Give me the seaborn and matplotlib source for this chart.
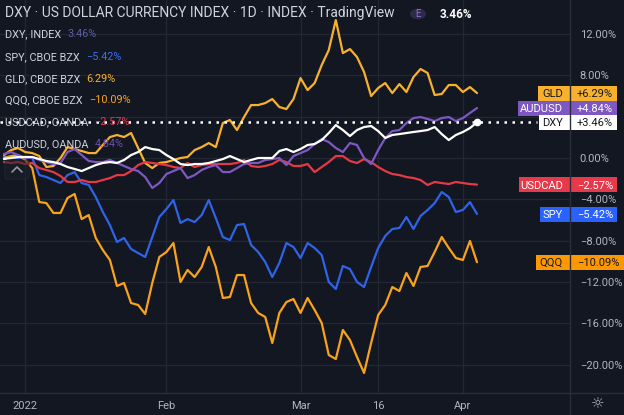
import numpy as np
import pandas as pd
import matplotlib
matplotlib.use("Agg")
import matplotlib.pyplot as plt
import matplotlib.transforms as mtransforms
from matplotlib.patches import Rectangle, FancyBboxPatch, Circle
from matplotlib.lines import Line2D
import seaborn as sns

# Percent change since the first bar (Dec 29 2021 .. Apr 5 2022)
dates = pd.bdate_range("2021-12-29", "2022-04-05")
dates = dates[~dates.isin(pd.to_datetime(["2022-01-17", "2022-02-21"]))]

spy = [0.10, 0.10, 0.00, 0.10, 0.00, -1.65, -1.84, -2.13, -2.42, -1.65,
       -1.36, -2.42, -2.61, -3.78, -5.23, -6.49, -8.13, -7.74, -8.81, -9.20,
       -9.58, -7.65, -5.71, -4.94, -4.07, -6.29, -5.91, -6.20, -5.52, -4.07,
       -5.81, -7.65, -7.94, -6.49, -6.39, -8.42, -9.10, -10.07, -11.52, -10.16,
       -8.23, -8.62, -9.68, -8.23, -8.71, -9.39, -12.00, -12.68, -10.45, -10.75,
       -12.00, -12.49, -10.55, -8.71, -7.55, -6.87, -6.78, -5.71, -6.87, -5.61,
       -5.03, -4.36, -3.29, -3.78, -5.23, -5.03, -4.26, -5.42]
qqq = [0.00, 0.19, 0.29, -0.19, -0.97, -4.26, -4.36, -5.32, -5.32, -3.87,
       -3.48, -5.91, -5.52, -7.74, -8.91, -9.87, -12.39, -12.10, -14.04, -14.23,
       -15.10, -12.10, -9.58, -9.10, -8.23, -12.00, -10.84, -11.52, -10.55, -8.62,
       -10.55, -13.55, -13.46, -11.33, -11.33, -14.04, -15.00, -15.39, -17.91, -15.00,
       -13.94, -13.65, -15.00, -13.55, -14.71, -15.97, -19.07, -19.46, -16.65, -17.62,
       -19.26, -20.81, -17.91, -15.20, -14.23, -12.49, -12.88, -11.13, -12.39, -10.55,
       -10.45, -9.10, -7.65, -8.71, -9.68, -9.87, -8.03, -10.09]
gld = [0.29, 0.77, 0.97, 0.58, 0.48, 0.19, -0.87, -0.77, 0.00, 1.06,
       0.87, 0.68, 0.48, 0.48, 1.26, 2.03, 2.23, 2.03, 2.42, 0.97,
       -0.48, -0.97, -0.48, -0.39, -0.19, 0.00, 0.10, 0.77, 1.06, 1.45,
       1.06, 3.39, 3.68, 2.71, 3.97, 5.13, 5.13, 5.32, 5.71, 4.94,
       4.74, 5.71, 7.74, 6.58, 7.26, 9.00, 10.45, 13.36, 10.16, 10.55,
       9.78, 8.33, 6.00, 6.78, 7.26, 6.29, 7.16, 6.39, 7.84, 8.62,
       8.23, 6.10, 6.20, 7.07, 7.07, 6.39, 6.87, 6.29]
dxy = [-0.10, 0.00, 0.10, 0.10, 0.10, -0.10, -0.29, -0.39, -0.58, -0.87,
       -1.06, -1.26, -0.97, -0.68, -0.48, -0.39, -0.48, -0.19, 0.29, 0.58,
       1.06, 0.87, 0.77, 0.29, -0.10, -0.58, -0.68, -0.58, -0.58, -0.48,
       -0.29, -0.10, 0.19, -0.10, -0.39, -0.19, 0.00, 0.00, 0.00, 0.68,
       0.87, 0.58, 0.87, 1.26, 1.36, 1.74, 2.42, 3.19, 2.71, 2.13,
       2.71, 3.00, 3.10, 2.61, 1.94, 2.23, 2.32, 2.42, 2.52, 2.61,
       2.71, 3.00, 2.32, 1.74, 2.23, 2.52, 2.90, 3.46]
audusd = [0.39, 0.58, 0.29, 0.00, 0.10, -0.19, -0.39, -0.58, -0.48, 0.58,
          0.87, 0.29, -0.29, -0.39, -0.39, -0.19, -0.48, -0.77, -1.06, -1.26,
          -1.84, -2.90, -2.42, -1.55, -1.26, -0.97, -1.94, -1.65, -1.16, -0.87,
          -0.68, -1.36, -1.36, -0.97, -0.58, -0.48, -0.48, -0.19, -0.10, 0.00,
          -0.68, 0.19, 0.48, 0.77, 1.36, 1.84, 1.55, 0.97, 0.58, 1.45,
          1.26, 0.00, -0.58, 0.77, 1.94, 2.61, 2.71, 3.39, 3.87, 3.97,
          3.78, 3.58, 3.87, 3.97, 3.58, 3.87, 4.36, 4.84]
usdcad = [-0.39, -0.48, -0.39, -0.58, -0.48, -0.97, -1.16, -1.36, -1.74, -2.32,
          -2.32, -2.13, -2.32, -2.32, -2.13, -1.94, -1.65, -1.65, -1.26, -0.68,
          -0.39, -0.48, -0.58, -0.68, -0.87, -0.97, -0.48, -0.87, -0.68, -0.58,
          -0.58, -0.58, -0.58, -0.48, -0.19, -0.77, -0.87, -0.77, -0.58, -0.19,
          -0.39, -0.77, -0.77, -0.58, -1.36, -0.87, -0.39, 0.19, 0.19, -0.29,
          -0.48, -0.10, -0.39, -0.87, -1.26, -1.55, -1.65, -1.84, -1.94, -2.13,
          -2.61, -2.32, -2.42, -2.52, -2.32, -2.42, -2.52, -2.57]

series = {"SPY": spy, "GLD": gld, "QQQ": qqq, "USDCAD": usdcad,
          "AUDUSD": audusd, "DXY": dxy}
colors = {"SPY": "#2f63e8", "GLD": "#f6b22f", "QQQ": "#f9a21b",
          "USDCAD": "#e53945", "AUDUSD": "#7e57c2", "DXY": "#ffffff"}

legend_names = ["DXY, INDEX", "SPY, CBOE BZX", "GLD, CBOE BZX", "QQQ, CBOE BZX",
                "USDCAD, OANDA", "AUDUSD, OANDA"]
legend_values = ["3.46%", "\u22125.42%", "6.29%", "\u221210.09%", "\u22122.57%", "4.84%"]
legend_colors = ["#5c5fa3", "#3a6df0", "#f6b22f", "#f9a21b", "#e53945", "#6a4fa8"]

tag_names = ["GLD", "AUDUSD", "DXY", "USDCAD", "SPY", "QQQ"]
tag_values = ["+6.29%", "+4.84%", "+3.46%", "\u22122.57%", "\u22125.42%", "\u221210.09%"]
tag_fill = ["#f7b12c", "#7e57c2", "#ffffff", "#e8394a", "#2962ff", "#ff9800"]
tag_text = ["#131722", "#ffffff", "#131722", "#ffffff", "#ffffff", "#131722"]

y_ticks = [12, 8, 0, -4, -8, -12, -16, -20]
x_tick_dates = ["2022-01-03", "2022-02-01", "2022-03-01", "2022-03-16", "2022-04-01"]
x_tick_labels = ["2022", "Feb", "Mar", "16", "Apr"]

BG = "#131722"
GRID = "#232733"
TXT = "#b2b5be"

# long-form table for seaborn
day = np.arange(len(dates))
df = pd.concat([pd.DataFrame({"day": day, "symbol": k, "pct": v})
                for k, v in series.items()], ignore_index=True)

sns.set_theme(style="dark", rc={"axes.facecolor": BG, "figure.facecolor": BG})
plt.rcParams["font.family"] = ["Roboto", "DejaVu Sans"]

W, H = 624, 415
fig = plt.figure(figsize=(W / 100, H / 100), dpi=100)
ax = fig.add_axes([0, 22 / H, 570 / W, 393 / H])

# horizontal / vertical grid
for t in y_ticks + [4]:
    ax.axhline(t, color=GRID, lw=0.9, zorder=0)
x_tick_pos = [int(np.where(dates == pd.Timestamp(d))[0][0]) for d in x_tick_dates]
for p in x_tick_pos:
    ax.axvline(p, color=GRID, lw=0.9, zorder=0)

sns.lineplot(data=df, x="day", y="pct", hue="symbol", hue_order=list(series),
             palette=colors, linewidth=1.6, legend=False, ax=ax, sort=False)

# dotted price line for the main symbol
ax.axhline(dxy[-1], xmin=0, xmax=537 / 570, color="white", lw=1.8,
           linestyle=(0, (1, 2.2)), zorder=6)
ax.plot([day[-1]], [dxy[-1]], "o", ms=4.5, color="white", zorder=7)

ax.set_xlim(-0.567, 80.17)
ax.set_ylim(-22.75, 15.30)
ax.set_xlabel("")
ax.set_ylabel("")
for s in ax.spines.values():
    s.set_visible(False)
ax.grid(False)

ax.yaxis.tick_right()
ax.set_yticks(y_ticks)
ax.set_yticklabels([f"{t:.2f}%".replace("-", "\u2212") for t in y_ticks])
ax.set_xticks(x_tick_pos)
ax.set_xticklabels(x_tick_labels)
ax.tick_params(axis="both", length=0, colors=TXT, labelsize=8)
ax.tick_params(axis="y", pad=7)
ax.tick_params(axis="x", pad=6)

# separators of price / time scales
fig.add_artist(Line2D([570 / W, 570 / W], [0, 1], color="#2a2e39", lw=1))
fig.add_artist(Line2D([0, 1], [22 / H, 22 / H], color="#2a2e39", lw=1))

# header and legend
fig.text(5 / W, 1 - 13 / H, "DXY \u00b7 US DOLLAR CURRENCY INDEX \u00b7 1D \u00b7 INDEX \u00b7 TradingView",
         color="#d1d4dc", fontsize=10, va="center", ha="left")
fig.add_artist(Circle((418 / W, 1 - 14 / H), 8 / W, transform=fig.transFigure,
                      facecolor="#2e2a48", edgecolor="none"))
fig.text(418 / W, 1 - 14 / H, "E", color="#8f73d6", fontsize=7, ha="center", va="center")
fig.text(440 / W, 1 - 14 / H, "3.46%", color="white", fontsize=8.5,
         fontweight="bold", ha="left", va="center")

fig.canvas.draw()
renderer = fig.canvas.get_renderer()
legend_y = [34, 57, 79, 100, 122, 144]
for name, val, col, ypx in zip(legend_names, legend_values, legend_colors, legend_y):
    t = fig.text(5 / W, 1 - ypx / H, name, color="#d1d4dc", fontsize=7.8,
                 ha="left", va="center", zorder=8)
    bb = t.get_window_extent(renderer)
    fig.text((bb.x1 + 6) / W, 1 - ypx / H, val, color=col, fontsize=7.8,
             ha="left", va="center", zorder=8)

# price-scale tags
blend = mtransforms.blended_transform_factory(fig.transFigure, ax.transData)
tag_x0 = [538, 518, 539, 519, 540, 536]
tag_x1 = [617, 617, 617, 617, 617, 624]
last = {"GLD": gld[-1], "AUDUSD": audusd[-1], "DXY": dxy[-1],
        "USDCAD": usdcad[-1], "SPY": spy[-1], "QQQ": qqq[-1]}
h = 15 / 10.33
for name, val, fc, tc, x0, x1 in zip(tag_names, tag_values, tag_fill, tag_text, tag_x0, tag_x1):
    y = last[name]
    fig.add_artist(Rectangle((x0 / W, y - h / 2), (x1 - x0) / W, h, transform=blend,
                             facecolor=fc, edgecolor="none", clip_on=False))
    fig.text(563 / W, y, name, transform=blend, color=tc, fontsize=8,
             ha="right", va="center_baseline")
    fig.text(577 / W, y, val, transform=blend, color=tc, fontsize=8,
             ha="left", va="center_baseline")

# collapse button and settings glyph
fig.add_artist(FancyBboxPatch((5 / W, 1 - 179 / H), 24 / W, 19 / H,
                              boxstyle="round,pad=0,rounding_size=0.006",
                              transform=fig.transFigure, facecolor="#1c202b",
                              edgecolor="#2a2e39", lw=0.8, alpha=0.55))
fig.add_artist(Line2D([12 / W, 17 / W, 22 / W], [1 - 172 / H, 1 - 167 / H, 1 - 172 / H],
                      color="#9598a1", lw=1.2))
fig.text(598 / W, 11 / H, "\u263c", color=TXT, fontsize=11, ha="center", va="center",
         family="DejaVu Sans")

fig.savefig("out.png", dpi=100, facecolor=BG)
